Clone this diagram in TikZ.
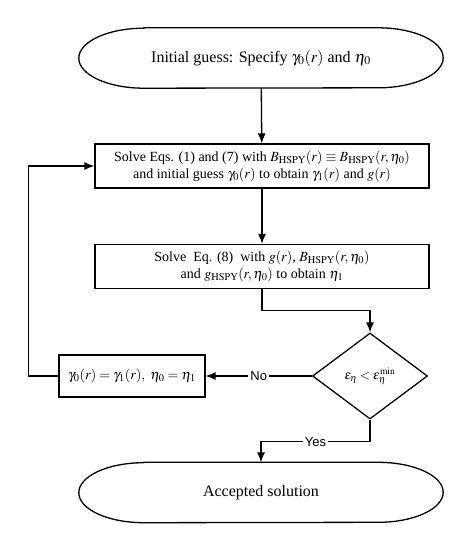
\documentclass[tikz,border=0pt]{standalone}
\usepackage{mathptmx}
\usepackage[no-math]{fontspec}
\setmainfont{Liberation Serif}
\setsansfont{Liberation Sans}
\usetikzlibrary{shapes.geometric,arrows.meta}

\begin{document}
\begin{tikzpicture}[x=1pt,y=1pt]
        \tikzset{
            term/.style={
                rectangle,
                minimum width=364pt,
                minimum height=60pt,
                font=\fontsize{16}{19}\selectfont
            },
            box/.style={
                draw,
                line width=1.3pt,
                minimum width=#1,
                minimum height=44pt,
                align=center,
                inner sep=2pt,
                font=\fontsize{14}{17}\selectfont
            },
            decision/.style={
                draw,
                diamond,
                line width=1.3pt,
                minimum width=115pt,
                minimum height=86pt,
                inner sep=0pt,
                font=\fontsize{13}{15}\selectfont
            },
            flow/.style={line width=1.3pt, -{Latex[length=10pt,width=8pt]}},
            lab/.style={fill=white, inner sep=2pt, font=\sffamily\fontsize{13}{15}\selectfont}
        }
        \useasboundingbox (0,0) rectangle (471,-550);

        % caixas
        \node[term] (start) at (261,-58) {Initial guess: Specify $\gamma_0(r)$ and $\eta_0$};
        \node[box=334pt] (solveA) at (262,-166) {Solve Eqs. (1) and (7) with $B_{\mathrm{HSPY}}(r)\equiv B_{\mathrm{HSPY}}(r,\eta_0)$\\
            and initial guess $\gamma_0(r)$ to obtain $\gamma_1(r)$ and $g(r)$};
        \node[box=334pt] (solveB) at (262,-266.5) {Solve~ Eq. (8)~ with $g(r)$, $B_{\mathrm{HSPY}}(r,\eta_0)$\\
            and $g_{\mathrm{HSPY}}(r,\eta_0)$ to obtain $\eta_1$};
        \node[decision] (check) at (370,-376) {$\epsilon_\eta<\epsilon_\eta^{\mathrm{min}}$};
        \node[box=146pt, minimum height=42pt] (update) at (132,-376) {$\gamma_0(r)=\gamma_1(r),\ \eta_0=\eta_1$};
        \node[term] (done) at (261,-492.5) {Accepted solution};

        % contorno das elipses
        \foreach \t in {start,done}
            \draw[line width=1.3pt] ([xshift=65pt]\t.north west) -- ([xshift=-65pt]\t.north east)
                arc[start angle=90, end angle=-90, x radius=65pt, y radius=30pt]
                -- ([xshift=65pt]\t.south west)
                arc[start angle=270, end angle=90, x radius=65pt, y radius=30pt] -- cycle;

        % setas
        \draw[flow] (start) -- (solveA);
        \draw[flow] (solveA) -- (solveB);
        \draw[flow] (solveB.south) -- ++(0,-21) -| (check.north);
        \draw[flow] (check.west) -- node[lab] {No} (update.east);
        \draw[flow] (update.west) -- ++(-30,0) |- (solveA.west);
        \draw[flow] (check.south) -- ++(0,-22) -| node[lab, pos=0.25] {Yes} (done.north);

    \end{tikzpicture}
\end{document}
